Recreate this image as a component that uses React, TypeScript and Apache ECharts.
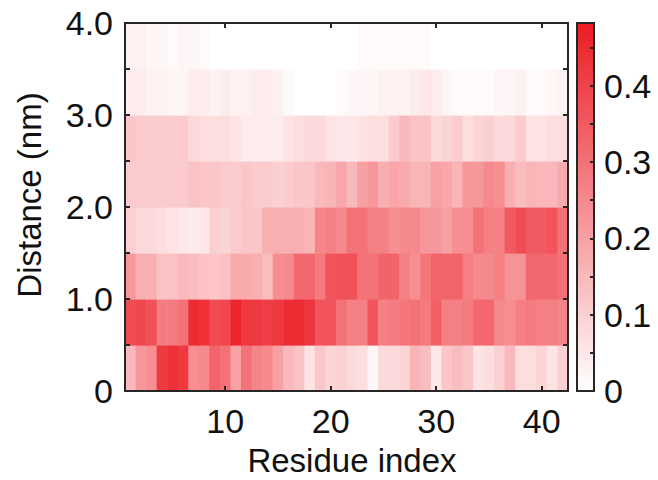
import React, { useEffect, useRef } from 'react';
import * as echarts from 'echarts';

// Residue indices (x categories) and distance bins (lower edges, nm)
const residues = [1, 2, 3, 4, 5, 6, 7, 8, 9, 10, 11, 12, 13, 14, 15, 16, 17, 18, 19, 20, 21,
  22, 23, 24, 25, 26, 27, 28, 29, 30, 31, 32, 33, 34, 35, 36, 37, 38, 39, 40, 41, 42];
const binStarts = [0, 0.5, 1.0, 1.5, 2.0, 2.5, 3.0, 3.5];
const binWidth = 0.5;

// Probability per residue for each distance bin
const bin00_05 = [0.15, 0.22, 0.24, 0.42, 0.44, 0.42, 0.24, 0.25, 0.33, 0.30, 0.20, 0.30, 0.26, 0.25, 0.20, 0.15, 0.13, 0.06, 0.12, 0.09, 0.10,
  0.08, 0.07, 0.02, 0.08, 0.08, 0.09, 0.16, 0.14, 0.05, 0.12, 0.14, 0.12, 0.06, 0.07, 0.10, 0.15, 0.07, 0.07, 0.09, 0.06, 0.10];
const bin05_10 = [0.38, 0.39, 0.37, 0.28, 0.28, 0.30, 0.45, 0.44, 0.38, 0.39, 0.46, 0.42, 0.42, 0.41, 0.42, 0.45, 0.45, 0.43, 0.36, 0.36, 0.30,
  0.27, 0.27, 0.36, 0.27, 0.28, 0.29, 0.30, 0.28, 0.34, 0.27, 0.27, 0.28, 0.32, 0.32, 0.25, 0.24, 0.27, 0.28, 0.27, 0.27, 0.26];
const bin10_15 = [0.22, 0.17, 0.17, 0.13, 0.13, 0.15, 0.14, 0.13, 0.12, 0.13, 0.18, 0.18, 0.17, 0.14, 0.24, 0.25, 0.32, 0.32, 0.28, 0.36, 0.37,
  0.37, 0.30, 0.30, 0.33, 0.33, 0.27, 0.24, 0.29, 0.33, 0.33, 0.33, 0.27, 0.25, 0.25, 0.27, 0.23, 0.23, 0.32, 0.32, 0.32, 0.30];
const bin15_20 = [0.10, 0.08, 0.08, 0.07, 0.06, 0.05, 0.04, 0.05, 0.10, 0.09, 0.11, 0.12, 0.12, 0.17, 0.17, 0.17, 0.17, 0.16, 0.26, 0.27, 0.25,
  0.30, 0.30, 0.27, 0.27, 0.24, 0.25, 0.25, 0.22, 0.22, 0.20, 0.24, 0.24, 0.30, 0.27, 0.27, 0.35, 0.38, 0.35, 0.35, 0.36, 0.30];
const bin20_25 = [0.11, 0.11, 0.11, 0.11, 0.11, 0.11, 0.13, 0.12, 0.12, 0.11, 0.11, 0.12, 0.11, 0.11, 0.10, 0.11, 0.12, 0.12, 0.15, 0.16, 0.19,
  0.15, 0.20, 0.22, 0.17, 0.19, 0.18, 0.16, 0.16, 0.20, 0.19, 0.16, 0.22, 0.22, 0.25, 0.24, 0.17, 0.14, 0.16, 0.15, 0.15, 0.18];
const bin25_30 = [0.12, 0.11, 0.11, 0.11, 0.11, 0.11, 0.08, 0.07, 0.07, 0.07, 0.06, 0.04, 0.04, 0.04, 0.04, 0.06, 0.07, 0.08, 0.08, 0.06, 0.05,
  0.05, 0.06, 0.07, 0.07, 0.11, 0.15, 0.13, 0.13, 0.08, 0.09, 0.11, 0.07, 0.09, 0.10, 0.08, 0.08, 0.11, 0.06, 0.06, 0.07, 0.07];
const bin30_35 = [0.04, 0.04, 0.03, 0.03, 0.02, 0.02, 0.04, 0.04, 0.03, 0.04, 0.03, 0.03, 0.04, 0.04, 0.03, 0.01, 0.00, 0.00, 0.00, 0.00, 0.01,
  0.02, 0.02, 0.02, 0.03, 0.03, 0.03, 0.04, 0.05, 0.04, 0.02, 0.01, 0.01, 0.01, 0.01, 0.02, 0.02, 0.03, 0.01, 0.01, 0.02, 0.03];
const bin35_40 = [0.03, 0.03, 0.02, 0.02, 0.01, 0.02, 0.02, 0.01, 0.00, 0.00, 0.00, 0.00, 0.00, 0.00, 0.00, 0.00, 0.00, 0.00, 0.00, 0.00, 0.00,
  0.00, 0.01, 0.01, 0.01, 0.01, 0.01, 0.01, 0.01, 0.00, 0.00, 0.00, 0.00, 0.00, 0.00, 0.00, 0.00, 0.00, 0.00, 0.00, 0.00, 0.00];

const binValues = [bin00_05, bin05_10, bin10_15, bin15_20, bin20_25, bin25_30, bin30_35, bin35_40];

const colorMin = 0;
const colorMax = 0.482;

const FONT = "'Liberation Sans', Arial, Helvetica, sans-serif";
const AXIS_COLOR = '#262626';
const TEXT_COLOR = '#111111';
const RED = '#ec1c24';

export default function App() {
  const ref = useRef<HTMLDivElement>(null);

  useEffect(() => {
    document.body.style.margin = '0';
    const chart = echarts.init(ref.current!, null, { renderer: 'svg' });

    const data: number[][] = [];
    binValues.forEach((row, bi) => {
      row.forEach((v, ri) => data.push([residues[ri], binStarts[bi], v]));
    });

    const lineStyle = { color: AXIS_COLOR, width: 2 };
    const labelStyle = { fontSize: 34, color: TEXT_COLOR, fontFamily: FONT };

    const xFmt = (v: number) => (Math.abs(v % 10) < 1e-9 ? String(v) : '');
    const yFmt = (v: number) => {
      if (Math.abs(v) < 1e-9) return '0';
      return Math.abs(v - Math.round(v)) < 1e-9 ? v.toFixed(1) : '';
    };
    const cFmt = (v: number) => {
      if (Math.abs(v) < 1e-9) return '0';
      return Math.abs(v * 10 - Math.round(v * 10)) < 1e-6 ? v.toFixed(1) : '';
    };

    const frameAxis = (gridIndex: number, pos: string, extra: any = {}) => ({
      gridIndex, type: 'value', position: pos, z: 10,
      axisLine: { show: true, onZero: false, lineStyle },
      axisTick: { show: false }, axisLabel: { show: false }, splitLine: { show: false },
      ...extra,
    });

    const option: any = {
      animation: false,
      backgroundColor: '#ffffff',
      grid: [
        { left: 125, top: 23, width: 443, height: 368 },
        { left: 577, top: 23, width: 17, height: 368 },
      ],
      visualMap: {
        show: false,
        seriesIndex: 0,
        dimension: 2,
        min: colorMin,
        max: colorMax,
        inRange: { color: ['#ffffff', RED] },
      },
      xAxis: [
        frameAxis(0, 'bottom', {
          min: 0.5, max: 42.5, splitNumber: 4,
          axisTick: { show: true, inside: true, length: 5, lineStyle },
          axisLabel: { ...labelStyle, margin: 13, formatter: xFmt, showMinLabel: false, showMaxLabel: false },
        }),
        frameAxis(0, 'top', {
          min: 0.5, max: 42.5, splitNumber: 4,
          axisTick: { show: true, inside: true, length: 5, lineStyle },
        }),
        frameAxis(1, 'bottom', { min: 0, max: 1 }),
        frameAxis(1, 'top', { min: 0, max: 1 }),
      ],
      yAxis: [
        frameAxis(0, 'left', {
          min: 0, max: 4, interval: 0.5,
          axisTick: { show: true, inside: true, length: 5, lineStyle },
          axisLabel: { ...labelStyle, margin: 12, formatter: yFmt },
        }),
        frameAxis(0, 'right', {
          min: 0, max: 4, interval: 0.5,
          axisTick: { show: true, inside: true, length: 5, lineStyle },
        }),
        frameAxis(1, 'left', { min: colorMin, max: colorMax, interval: 0.05 }),
        frameAxis(1, 'right', {
          min: colorMin, max: colorMax, interval: 0.05,
          axisTick: { show: true, inside: true, length: 4, lineStyle },
          axisLabel: { ...labelStyle, margin: 10, formatter: cFmt, showMaxLabel: false },
        }),
      ],
      series: [
        {
          type: 'custom',
          xAxisIndex: 0,
          yAxisIndex: 0,
          clip: true,
          data,
          renderItem: (params: any, api: any) => {
            const r = api.value(0);
            const y0 = api.value(1);
            const p1 = api.coord([r - 0.5, y0 + binWidth]);
            const p2 = api.coord([r + 0.5, y0]);
            return {
              type: 'rect',
              shape: { x: p1[0], y: p1[1], width: p2[0] - p1[0] + 0.6, height: p2[1] - p1[1] + 0.6 },
              style: { fill: api.visual('color') },
            };
          },
        },
        {
          type: 'custom',
          xAxisIndex: 2,
          yAxisIndex: 2,
          data: [[0, colorMax]],
          renderItem: (params: any, api: any) => {
            const p1 = api.coord([0, colorMax]);
            const p2 = api.coord([1, colorMin]);
            return {
              type: 'rect',
              shape: { x: p1[0], y: p1[1], width: p2[0] - p1[0], height: p2[1] - p1[1] },
              style: {
                fill: new echarts.graphic.LinearGradient(0, 1, 0, 0, [
                  { offset: 0, color: '#ffffff' },
                  { offset: 1, color: RED },
                ]),
              },
            };
          },
        },
      ],
      graphic: [
        {
          type: 'text', x: 352, y: 460,
          style: { text: 'Residue index', fontSize: 33, fontFamily: FONT, fill: TEXT_COLOR, align: 'center', verticalAlign: 'middle' },
        },
        {
          type: 'text', x: 29, y: 195, rotation: Math.PI / 2,
          style: { text: 'Distance (nm)', fontSize: 33, fontFamily: FONT, fill: TEXT_COLOR, align: 'center', verticalAlign: 'middle' },
        },
      ],
    };

    chart.setOption(option);
    return () => chart.dispose();
  }, []);

  return <div ref={ref} style={{ width: 658, height: 480 }} />;
}
